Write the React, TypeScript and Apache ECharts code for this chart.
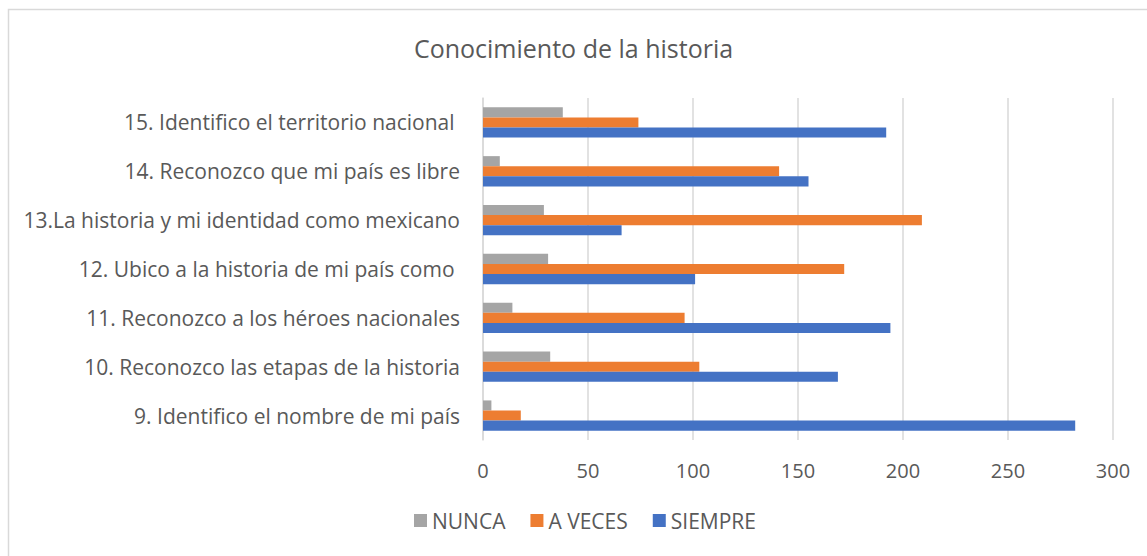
import React, { useEffect, useRef } from "react";
import * as echarts from "echarts";

const categories = [
  "9. Identifico el nombre de mi país",
  "10. Reconozco las etapas de la historia",
  "11. Reconozco a los héroes nacionales",
  "12. Ubico a la historia de mi país como ",
  "13.La historia y mi identidad como mexicano",
  "14. Reconozco que mi país es libre",
  "15. Identifico el territorio nacional ",
];
const siempre = [282, 169, 194, 101, 66, 155, 192];
const aVeces = [18, 103, 96, 172, 209, 141, 74];
const nunca = [4, 32, 14, 31, 29, 8, 38];
const xTicks = { min: 0, max: 300, interval: 50 };

const FONT = "'Open Sans', sans-serif";

export default function App() {
  const ref = useRef<HTMLDivElement>(null);
  useEffect(() => {
    document.body.style.margin = "0";
    const chart = echarts.init(ref.current!, undefined, { renderer: "svg" });
    chart.setOption({
      animation: false,
      backgroundColor: "#ffffff",
      textStyle: { fontFamily: FONT },
      title: {
        text: "Conocimiento de la historia",
        left: "center",
        top: 30,
        textStyle: { fontFamily: FONT, fontSize: 25, fontWeight: "normal", color: "#595959" },
      },
      graphic: [
        {
          type: "rect",
          shape: { x: 8.5, y: 9.5, width: 1300, height: 700 },
          style: { fill: "none", stroke: "#d9d9d9", lineWidth: 1.5 },
          silent: true,
        },
      ],
      legend: {
        data: ["NUNCA", "A VECES", "SIEMPRE"],
        bottom: 20,
        left: 409,
        icon: "rect",
        itemWidth: 13,
        itemHeight: 13,
        itemGap: 25,
        textStyle: { fontFamily: FONT, fontSize: 21, color: "#595959" },
      },
      grid: { left: 483, right: 34, top: 98, bottom: 116, containLabel: false },
      xAxis: {
        type: "value",
        min: xTicks.min,
        max: xTicks.max,
        interval: xTicks.interval,
        axisLine: { show: false },
        axisTick: { show: false },
        axisLabel: { fontFamily: FONT, fontSize: 20, color: "#595959", margin: 20 },
        splitLine: { show: true, lineStyle: { color: "#d9d9d9", width: 1.5 } },
      },
      yAxis: {
        type: "category",
        data: categories,
        axisLine: { show: true, lineStyle: { color: "#d9d9d9", width: 1.5 } },
        axisTick: { show: false },
        axisLabel: { fontFamily: FONT, fontSize: 21, color: "#595959", margin: 23 },
      },
      series: [
        {
          name: "NUNCA",
          type: "bar",
          data: nunca,
          itemStyle: { color: "#a5a5a5" },
          barGap: "0%",
          barCategoryGap: "38%",
        },
        {
          name: "A VECES",
          type: "bar",
          data: aVeces,
          itemStyle: { color: "#ed7d31" },
          barGap: "0%",
          barCategoryGap: "38%",
        },
        {
          name: "SIEMPRE",
          type: "bar",
          data: siempre,
          itemStyle: { color: "#4472c4" },
          barGap: "0%",
          barCategoryGap: "38%",
        },
      ],
    });
    return () => chart.dispose();
  }, []);
  return <div ref={ref} style={{ width: 1147, height: 556 }} />;
}
